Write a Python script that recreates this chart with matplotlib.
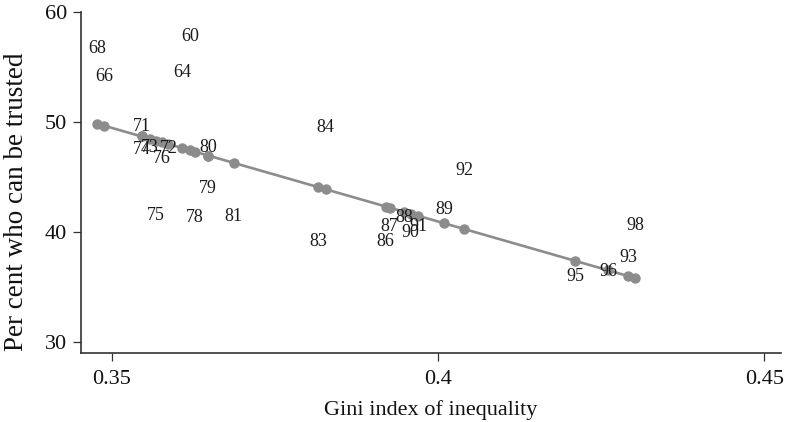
import numpy as np
import matplotlib
matplotlib.use("Agg")
import matplotlib.pyplot as plt

years = ["68", "66", "60", "64", "71", "74", "73", "72", "76", "80", "79", "75", "78", "81",
         "84", "92", "89", "88", "87", "91", "90", "86", "83", "98", "93", "95", "96"]
gini = [0.3478, 0.3488, 0.3620, 0.3608, 0.3546, 0.3546, 0.3559, 0.3587, 0.3577, 0.3648,
        0.3648, 0.3568, 0.3628, 0.3687, 0.3828, 0.4040, 0.4009, 0.3948, 0.3926, 0.3970,
        0.3958, 0.3920, 0.3816, 0.4302, 0.4291, 0.4210, 0.4261]
trust = [56.7, 54.1, 57.8, 54.5, 49.6, 47.5, 47.7, 47.6, 46.7, 47.7,
         43.9, 41.5, 41.3, 41.4, 49.5, 45.6, 42.0, 41.3, 40.5, 40.5,
         39.9, 39.1, 39.1, 40.6, 37.7, 35.9, 36.4]
# fitted line: intercept, slope
fit_intercept = 109.1
fit_slope = -170.4

xticks = [0.35, 0.40, 0.45]
xticklabels = ["0.35", "0.4", "0.45"]
yticks = [30, 40, 50, 60]

plt.rcParams['font.family'] = ['Liberation Serif', 'DejaVu Serif']

fig = plt.figure(figsize=(7.87, 4.22), dpi=100)
ax = fig.add_axes([0.1029, 0.1628, 0.8899, 0.8088])

g = np.array(gini)
gs = np.sort(g)
fit = fit_intercept + fit_slope * gs
ax.plot(gs, fit, color="#8c8c8c", lw=1.9, marker="o", markersize=6.5,
        markerfacecolor="#8c8c8c", markeredgecolor="#8c8c8c", zorder=2)

for yr, x, y in zip(years, gini, trust):
    ax.text(x, y, yr, ha="center", va="center", fontsize=13, color="#1a1a1a", zorder=3)

ax.set_xlim(0.3453, 0.4526)
ax.set_ylim(28.95, 60.0)
ax.set_xticks(xticks)
ax.set_xticklabels(xticklabels)
ax.set_yticks(yticks)
for s in ["top", "right"]:
    ax.spines[s].set_visible(False)
for s in ["left", "bottom"]:
    ax.spines[s].set_color("#333333")
    ax.spines[s].set_linewidth(1.2)
ax.tick_params(axis="both", direction="out", length=6, width=0.9, color="#333333",
               labelsize=16, labelcolor="#111111", pad=4)
ax.tick_params(axis="x", pad=6)
ax.set_xlabel("Gini index of inequality", fontsize=16, color="#111111", labelpad=8)
ax.set_ylabel("Per cent who can be trusted", fontsize=19.5, color="#111111",
              va="center", ha="center")
ax.yaxis.set_label_coords(-0.0914, 0.443)

fig.savefig("out.png", dpi=100)
